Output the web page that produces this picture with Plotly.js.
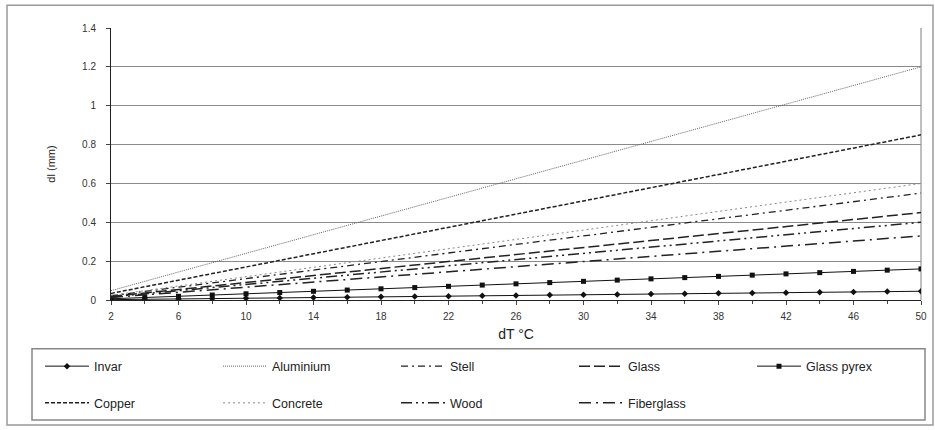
<!DOCTYPE html>
<html>
<head>
<meta charset="utf-8">
<script src="https://cdn.plot.ly/plotly-3.0.1.min.js"></script>
<style>html,body{margin:0;padding:0;background:#fff;}#chart{width:935px;height:430px;}</style>
</head>
<body>
<div id="chart"></div>
<script>
const dT = [2,4,6,8,10,12,14,16,18,20,22,24,26,28,30,32,34,36,38,40,42,44,46,48,50];
const xTickLabels = [2,6,10,14,18,22,26,30,34,38,42,46,50];
const yTickLabels = [0,0.2,0.4,0.6,0.8,1,1.2,1.4];

const invar = [0.0018,0.0036,0.0054,0.0072,0.009,0.0108,0.0126,0.0144,0.0162,0.018,0.0198,0.0216,0.0234,0.0252,0.027,0.0288,0.0306,0.0324,0.0342,0.036,0.0378,0.0396,0.0414,0.0432,0.045];
const aluminium = [0.048,0.096,0.144,0.192,0.24,0.288,0.336,0.384,0.432,0.48,0.528,0.576,0.624,0.672,0.72,0.768,0.816,0.864,0.912,0.96,1.008,1.056,1.104,1.152,1.2];
const stell = [0.022,0.044,0.066,0.088,0.11,0.132,0.154,0.176,0.198,0.22,0.242,0.264,0.286,0.308,0.33,0.352,0.374,0.396,0.418,0.44,0.462,0.484,0.506,0.528,0.55];
const glass = [0.018,0.036,0.054,0.072,0.09,0.108,0.126,0.144,0.162,0.18,0.198,0.216,0.234,0.252,0.27,0.288,0.306,0.324,0.342,0.36,0.378,0.396,0.414,0.432,0.45];
const glassPyrex = [0.0064,0.0128,0.0192,0.0256,0.032,0.0384,0.0448,0.0512,0.0576,0.064,0.0704,0.0768,0.0832,0.0896,0.096,0.1024,0.1088,0.1152,0.1216,0.128,0.1344,0.1408,0.1472,0.1536,0.16];
const copper = [0.034,0.068,0.102,0.136,0.17,0.204,0.238,0.272,0.306,0.34,0.374,0.408,0.442,0.476,0.51,0.544,0.578,0.612,0.646,0.68,0.714,0.748,0.782,0.816,0.85];
const concrete = [0.024,0.048,0.072,0.096,0.12,0.144,0.168,0.192,0.216,0.24,0.264,0.288,0.312,0.336,0.36,0.384,0.408,0.432,0.456,0.48,0.504,0.528,0.552,0.576,0.6];
const wood = [0.016,0.032,0.048,0.064,0.08,0.096,0.112,0.128,0.144,0.16,0.176,0.192,0.208,0.224,0.24,0.256,0.272,0.288,0.304,0.32,0.336,0.352,0.368,0.384,0.4];
const fiberglass = [0.0132,0.0264,0.0396,0.0528,0.066,0.0792,0.0924,0.1056,0.1188,0.132,0.1452,0.1584,0.1716,0.1848,0.198,0.2112,0.2244,0.2376,0.2508,0.264,0.2772,0.2904,0.3036,0.3168,0.33];

const FONT = "Liberation Sans, Arial, sans-serif";

function tr(name, y, line, legend, marker) {
  const t = {x: dT, y: y, name: name, type: 'scatter', mode: marker ? 'lines+markers' : 'lines',
    line: line, legend: legend};
  if (marker) t.marker = marker;
  return t;
}

const data = [
  tr('Invar', invar, {color:'#111', width:1}, 'legend', {symbol:'diamond', size:5, color:'#111'}),
  tr('Aluminium', aluminium, {color:'#666', width:1, dash:'1px,1px'}, 'legend'),
  tr('Stell', stell, {color:'#222', width:1.3, dash:'7px,4px,2px,4px'}, 'legend'),
  tr('Glass', glass, {color:'#222', width:1.5, dash:'11px,4px'}, 'legend'),
  tr('Glass pyrex', glassPyrex, {color:'#111', width:1}, 'legend', {symbol:'square', size:5, color:'#111'}),
  tr('Copper', copper, {color:'#222', width:1.5, dash:'4px,2px'}, 'legend2'),
  tr('Concrete', concrete, {color:'#888', width:1, dash:'2px,3px'}, 'legend2'),
  tr('Wood', wood, {color:'#222', width:1.5, dash:'11px,4px,2px,4px,2px,4px'}, 'legend2'),
  tr('Fiberglass', fiberglass, {color:'#222', width:1.5, dash:'12px,5px,2px,5px'}, 'legend2')
];

// plot area: x 111..921, y 28..302
const PX = v => (v - 111) / 810;
const PY = v => (302 - v) / 274;

const legendCommon = {
  orientation: 'h', xref: 'paper', yref: 'paper', xanchor: 'left', yanchor: 'middle',
  font: {family: FONT, size: 12.5, color: '#222'}, bgcolor: 'rgba(0,0,0,0)',
  entrywidth: 119, entrywidthmode: 'pixels', itemwidth: 44, itemclick: false, itemdoubleclick: false
};

const layout = {
  width: 935, height: 430,
  margin: {l: 111, r: 14, t: 28, b: 128},
  paper_bgcolor: '#fff', plot_bgcolor: '#fff',
  font: {family: FONT, color: '#333'},
  xaxis: {
    range: [2, 50], tickmode: 'array', tickvals: xTickLabels, ticktext: xTickLabels.map(String),
    ticks: 'outside', ticklen: 4, tickcolor: '#444', showgrid: false, zeroline: false,
    showline: true, linecolor: '#222', linewidth: 1, ticklabelstandoff: 3,
    minor: {tickmode: 'linear', tick0: 2, dtick: 2, ticks: 'outside', ticklen: 3, tickcolor: '#444', showgrid: false},
    tickfont: {family: FONT, size: 10, color: '#333'},
    title: {text: 'dT °C', font: {family: FONT, size: 14, color: '#222'}, standoff: 8}
  },
  yaxis: {
    range: [0, 1.4], tickmode: 'array', tickvals: yTickLabels, ticktext: yTickLabels.map(String),
    ticks: 'outside', ticklen: 4, tickcolor: '#444', showgrid: true, gridcolor: '#8a8a8a', gridwidth: 1,
    zeroline: false, showline: true, linecolor: '#222', linewidth: 1, ticklabelstandoff: 8,
    tickfont: {family: FONT, size: 10, color: '#333'},
    title: {text: 'dl (mm)', font: {family: FONT, size: 11, color: '#222'}, standoff: 24}
  },
  legend: Object.assign({}, legendCommon, {x: PX(40), y: PY(369)}),
  legend2: Object.assign({}, legendCommon, {x: PX(40), y: PY(406)}),
  shapes: [
    {type: 'rect', xref: 'paper', yref: 'paper', x0: PX(7), x1: PX(933), y0: PY(428), y1: PY(5),
      line: {color: '#999', width: 1.5}, layer: 'below'},
    {type: 'rect', xref: 'paper', yref: 'paper', x0: PX(32), x1: PX(925), y0: PY(423), y1: PY(351),
      line: {color: '#888', width: 1.5}, layer: 'below'},
    {type: 'line', xref: 'paper', yref: 'paper', x0: 1, x1: 1, y0: 0, y1: 1,
      line: {color: '#aaa', width: 1.5}, layer: 'below'}
  ],
  showlegend: true
};

Plotly.newPlot('chart', data, layout, {displayModeBar: false, staticPlot: true});
</script>
</body>
</html>
